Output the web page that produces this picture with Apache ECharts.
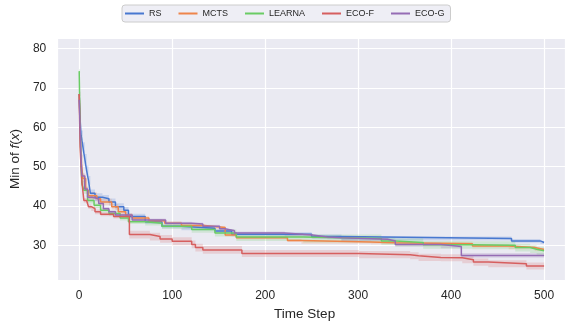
<!DOCTYPE html>
<html>
<head>
<meta charset="utf-8">
<script src="https://cdn.jsdelivr.net/npm/echarts@6/dist/echarts.min.js"></script>
<style>
  html, body { margin: 0; padding: 0; background: #fff; }
  #chart { width: 565px; height: 326px; }
</style>
</head>
<body>
<div id="chart"></div>
<script>
// legend names and colours (seaborn muted)
const names = ['RS', 'MCTS', 'LEARNA', 'ECO-F', 'ECO-G']
const colors = ['#4878d0', '#ee854a', '#6acc64', '#d65f5f', '#956cb4']

// [time step, mean min f(x), half width of the shaded band]
const rsSteps = [
  [0, 68.5, 0.6], [1, 62, 1.2], [2, 58, 1.2], [4, 55, 1.2], [6, 52, 1.2], [8, 49, 1.2],
  [10, 46.5, 1.1], [12, 43.2, 1.0], [17, 42.2, 1.0], [25, 41.8, 1.0], [32, 41.0, 0.9],
  [39, 39.8, 0.9], [48, 38.9, 0.8], [53, 37.3, 0.7], [71, 36.0, 0.6], [89, 34.8, 0.5],
  [110, 34.3, 0.5], [146, 33.6, 0.5], [164, 32.8, 0.5], [250, 32.2, 0.5], [282, 31.7, 0.5],
  [465, 31.1, 0.5], [496, 30.7, 0.4], [500, 30.7, 0.4]
]
const mctsSteps = [
  [0, 68.5, 0.5], [1, 60, 1.0], [2, 52, 1.0], [4, 47, 1.0], [7, 44, 0.9], [10, 42.6, 0.9],
  [19, 41.8, 0.8], [23, 41.0, 0.8], [35, 39.8, 0.7], [42, 38.5, 0.6], [50, 37.6, 0.6],
  [57, 36.9, 0.5], [75, 36.2, 0.5], [92, 35.6, 0.5], [110, 35.0, 0.4], [135, 34.5, 0.4],
  [157, 32.6, 0.4], [169, 31.9, 0.4], [224, 31.2, 0.4], [239, 30.8, 0.4], [314, 30.65, 0.4],
  [339, 30.4, 0.4], [423, 29.8, 0.4], [462, 29.4, 0.4], [490, 28.9, 0.4], [500, 28.9, 0.4]
]
const learnaSteps = [
  [0, 74.3, 0.5], [1, 60, 1.0], [2, 50, 1.0], [3, 45.5, 0.9], [5, 44, 0.9], [9, 41.4, 0.8],
  [16, 40.2, 0.7], [23, 38.9, 0.6], [32, 38.1, 0.6], [44, 36.9, 0.6], [53, 36.0, 0.6],
  [71, 35.6, 0.6], [89, 34.8, 0.7], [121, 34.0, 0.8], [146, 33.1, 0.9], [169, 32.1, 1.0],
  [241, 31.7, 1.0], [325, 31.1, 1.0], [340, 30.7, 1.0], [370, 30.1, 1.0], [423, 30.0, 1.0],
  [469, 29.4, 1.0], [485, 29.0, 1.0], [492, 28.6, 1.0], [500, 28.6, 1.0]
]
const ecoFSteps = [
  [0, 68.5, 0.5], [1, 55, 0.8], [2, 50, 0.8], [3, 46, 0.8], [5, 41.4, 0.6], [8, 41.2, 0.6],
  [10, 39.8, 0.6], [13, 39.3, 0.6], [17, 38.5, 0.6], [23, 37.9, 0.5], [37, 37.3, 0.5],
  [54, 32.7, 1.0], [76, 32.2, 1.0], [87, 31.6, 1.0], [100, 31.0, 1.0], [121, 30.2, 1.0],
  [125, 29.4, 1.0], [133, 28.8, 1.0], [175, 27.9, 0.9], [301, 27.6, 0.9], [356, 27.3, 0.9],
  [365, 26.9, 0.9], [389, 26.8, 0.9], [412, 26.3, 0.9], [424, 25.7, 0.9], [440, 25.3, 0.9],
  [481, 24.7, 0.9], [500, 24.7, 0.9]
]
const ecoGSteps = [
  [0, 67, 0.5], [1, 60, 0.8], [2, 52, 0.8], [3, 47.6, 0.7], [6, 44.3, 0.6], [9, 42.2, 0.6],
  [14, 41.8, 0.6], [21, 40.6, 0.5], [26, 39.3, 0.5], [32, 38.5, 0.4], [39, 37.7, 0.4],
  [57, 36.4, 0.4], [93, 35.6, 0.4], [121, 35.4, 0.4], [133, 34.8, 0.4], [151, 34.2, 0.4],
  [157, 33.7, 0.4], [167, 33.1, 0.4], [221, 32.6, 0.4], [251, 32.1, 0.4], [267, 31.9, 0.4],
  [282, 31.5, 0.4], [332, 31.1, 0.4], [340, 30.2, 0.5], [389, 29.7, 0.5], [411, 27.4, 0.6],
  [500, 27.4, 0.6]
]
const allSteps = [rsSteps, mctsSteps, learnaSteps, ecoFSteps, ecoGSteps]

const xTicks = [0, 100, 200, 300, 400, 500]
const yTicks = [30, 40, 50, 60, 70, 80]

const chart = echarts.init(document.getElementById('chart'), null, { renderer: 'canvas' })

// step shaped polygon between (y - hw) and (y + hw)
function bandRenderer(pts, color) {
  return function (params, api) {
    const top = []
    const bottom = []
    for (let i = 0; i < pts.length; i++) {
      const p = pts[i]
      const xEnd = i < pts.length - 1 ? pts[i + 1][0] : p[0]
      top.push(api.coord([p[0], p[1] + p[2]]), api.coord([xEnd, p[1] + p[2]]))
      bottom.push(api.coord([p[0], p[1] - p[2]]), api.coord([xEnd, p[1] - p[2]]))
    }
    return {
      type: 'polygon',
      shape: { points: top.concat(bottom.reverse()) },
      style: { fill: echarts.color.modifyAlpha(color, 0.2) },
    }
  }
}

const bandSeries = []
const lineSeries = []
allSteps.forEach((pts, i) => {
  bandSeries.push({
    name: names[i] + ' band',
    type: 'custom',
    silent: true,
    z: 1,
    renderItem: bandRenderer(pts, colors[i]),
    encode: { x: 0, y: 1 },
    data: [[pts[0][0], pts[0][1]]],
  })
  lineSeries.push({
    name: names[i],
    type: 'line',
    step: 'end',
    symbol: 'none',
    z: 3,
    color: colors[i],
    lineStyle: { width: 1.5, color: colors[i] },
    data: pts.map(p => [p[0], p[1]]),
  })
})

const option = {
  backgroundColor: '#ffffff',
  animation: false,
  textStyle: { fontFamily: 'Liberation Sans, Arial, sans-serif', color: '#262626' },
  legend: {
    data: names,
    left: 122,
    top: 5,
    icon: 'rect',
    itemWidth: 19,
    itemHeight: 2,
    itemGap: 17,
    padding: [3, 6, 3, 3],
    backgroundColor: 'rgba(234,234,242,0.8)',
    borderColor: '#cccccc',
    borderWidth: 1,
    borderRadius: 3,
    textStyle: { fontSize: 9, color: '#262626', lineHeight: 11 },
  },
  grid: { left: 55, top: 38, right: 0, bottom: 39, backgroundColor: '#eaeaf2', show: true, borderWidth: 0 },
  xAxis: {
    type: 'value',
    min: -23.6,
    max: 522.5,
    name: 'Time Step',
    nameLocation: 'middle',
    nameGap: 27,
    nameTextStyle: { fontSize: 13.5, color: '#262626', padding: [0, 13, 0, 0] },
    axisLine: { show: false },
    axisTick: { show: false },
    axisLabel: {
      fontSize: 12,
      color: '#262626',
      margin: 10,
      showMinLabel: false,
      showMaxLabel: false,
      formatter: v => (xTicks.includes(v) ? String(v) : ''),
    },
    splitLine: { show: true, lineStyle: { color: '#ffffff', width: 1.2 } },
  },
  yAxis: {
    type: 'value',
    min: 21.15,
    max: 82.73,
    name: 'Min of {i|f}({i|x})',
    nameLocation: 'middle',
    nameGap: 31,
    nameRotate: 90,
    nameTextStyle: {
      fontSize: 13.5,
      color: '#262626',
      rich: { i: { fontSize: 13.5, fontStyle: 'italic', color: '#262626' } },
    },
    axisLine: { show: false },
    axisTick: { show: false },
    axisLabel: {
      fontSize: 12,
      color: '#262626',
      margin: 11,
      showMinLabel: false,
      showMaxLabel: false,
      formatter: v => (yTicks.includes(v) ? String(v) : ''),
    },
    splitLine: { show: true, lineStyle: { color: '#ffffff', width: 1.2 } },
  },
  series: bandSeries.concat(lineSeries),
}

chart.setOption(option)
</script>
</body>
</html>
